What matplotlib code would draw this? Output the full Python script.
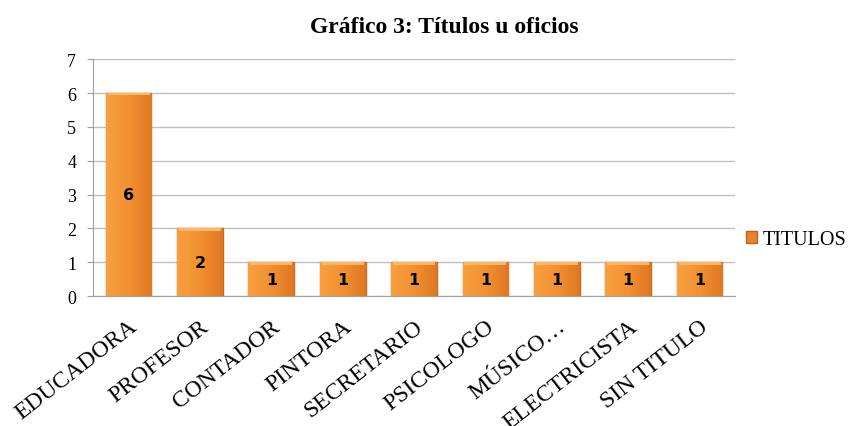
import matplotlib.pyplot as plt
import numpy as np
from matplotlib.patches import Patch
from matplotlib.colors import LinearSegmentedColormap

categories = ["EDUCADORA", "PROFESOR", "CONTADOR", "PINTORA", "SECRETARIO",
              "PSICOLOGO", "MÚSICO…", "ELECTRICISTA", "SIN TITULO"]
values = [6, 2, 1, 1, 1, 1, 1, 1, 1]
series_name = "TITULOS"
title = "Gráfico 3: Títulos u oficios"

serif = ["Liberation Serif", "DejaVu Serif"]

fig = plt.figure(figsize=(8.68, 4.27), dpi=100)
ax = fig.add_axes([0.107, 0.304, 0.740, 0.555])

x = np.arange(len(categories))
bars = ax.bar(x, values, width=0.64, color="#F28C28", edgecolor="#C96A1E",
              linewidth=1.0, zorder=3, label=series_name)

grad = np.linspace(0, 1, 256).reshape(1, -1)
cmap = LinearSegmentedColormap.from_list("o", ["#F7A040", "#F39030", "#DE7824"])
for b in bars:
    bx, by = b.get_x(), b.get_y()
    w, h = b.get_width(), b.get_height()
    im = ax.imshow(grad, cmap=cmap, aspect="auto", extent=[bx, bx + w, by, by + h],
                   zorder=3.5)
    im.set_clip_path(b)
    ax.bar(bx + w / 2, 0.07, bottom=by + h - 0.07, width=w * 0.92,
           color="#FBB766", linewidth=0, zorder=3.6)

for xi, v in zip(x, values):
    ax.text(xi, v / 2, str(v), ha="center", va="center", fontsize=11.5,
            fontweight="bold", family=["DejaVu Sans"], color="black", zorder=5)

ax.set_xlim(-0.5, len(categories) - 0.5)
ax.set_ylim(0, 7)
ax.set_yticks(range(0, 8))
ax.yaxis.grid(True, color="#BFBFBF", linewidth=1.0, zorder=0)
ax.set_axisbelow(True)
for s in ["top", "right"]:
    ax.spines[s].set_visible(False)
ax.spines["left"].set_color("#A0A0A0")
ax.spines["bottom"].set_color("#A0A0A0")
ax.tick_params(axis="y", length=4, color="#A0A0A0", pad=8)
ax.tick_params(axis="x", length=0, pad=14)

ax.set_xticks(x)
ax.set_xticklabels(categories, rotation=38, ha="right", rotation_mode="anchor",
                   fontsize=17, family=serif)
ax.set_yticklabels([str(i) for i in range(0, 8)], family=serif, fontsize=13)

fig.text(0.512, 0.935, title, ha="center", va="center", fontsize=17,
         fontweight="bold", family=serif)

handle = Patch(facecolor="#E9822A", edgecolor="#B8621E")
fig.legend([handle], [series_name], loc="center left", bbox_to_anchor=(0.838, 0.437),
           frameon=False, handlelength=0.55, handleheight=0.55, handletextpad=0.3,
           prop={"family": serif, "size": 14.5})

fig.savefig("out.png", dpi=100)
